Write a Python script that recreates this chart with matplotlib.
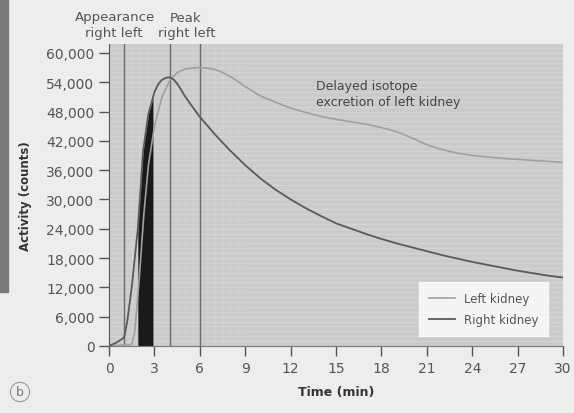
import numpy as np
import matplotlib
matplotlib.use("Agg")
import matplotlib.pyplot as plt
from matplotlib.patches import Rectangle

# waktu (menit) dan aktivitas (counts)
t_right = [0, 0.5, 0.9, 1.0, 1.2, 1.5, 1.9, 2.25, 2.6, 3.0, 3.25, 3.5, 3.75, 4.0, 4.25, 4.5, 4.75,
           5, 5.5, 6, 7, 8, 9, 10, 11, 12, 13, 14, 15, 16, 17, 18, 19, 20, 21, 22, 23, 24, 25, 26,
           27, 28, 29, 30]
right_kidney = [0, 700, 1500, 1800, 5000, 12000, 24000, 40000, 47500, 52000, 53600, 54500, 54900,
                55000, 54600, 53700, 52500, 51200, 49000, 46900, 43300, 40000, 37000, 34300, 32000,
                30000, 28200, 26600, 25100, 24000, 22900, 21900, 21000, 20200, 19400, 18600, 17900,
                17200, 16600, 16000, 15400, 14900, 14400, 14000]

t_left = [0, 1.5, 1.7, 2.0, 2.3, 2.6, 3.0, 3.5, 4.0, 4.5, 5, 5.5, 6, 6.5, 7, 7.5, 8, 8.5, 9, 10,
          11, 12, 13, 14, 15, 16, 17, 18, 19, 20, 21, 22, 23, 24, 25, 26, 27, 28, 29, 30]
left_kidney = [0, 300, 3000, 14000, 27000, 37000, 45000, 51000, 54300, 56000, 56700, 56900, 57000,
               56900, 56600, 56000, 55200, 54200, 53100, 51200, 49900, 48700, 47800, 47000, 46400,
               45900, 45400, 44700, 43900, 42600, 41200, 40200, 39500, 39000, 38700, 38400, 38200,
               38000, 37800, 37600]

marker_times = [1.0, 4.0, 6.0]     # appearance right, peak right, peak left
fill_range = (1.9, 2.9)            # daerah hitam di bawah kurva ginjal kanan

x_ticks = np.arange(0, 31, 3)
y_ticks = np.arange(0, 60001, 6000)

fig = plt.figure(figsize=(5.74, 4.14), dpi=100, facecolor='#ededed')
ax = fig.add_axes([0.190, 0.162, 0.791, 0.729])
ax.set_facecolor('#cbcbcb')

# garis grid halus seperti kertas grafik
for yy in np.arange(0, 62000, 1000):
    ax.axhline(yy, color='#d8d8d8', lw=0.5, zorder=0)
for xx in np.arange(0, 9.1, 0.5):
    ax.axvline(xx, color='#d4d4d4', lw=0.5, zorder=0)

for mt in marker_times:
    ax.axvline(mt, color='#6a6a6a', lw=1.0, zorder=1)

# daerah hitam
tf = np.linspace(fill_range[0], fill_range[1], 50)
ax.fill_between(tf, 0, np.interp(tf, t_right, right_kidney), color='#1a1a1a', zorder=2, lw=0)

ax.plot(t_left, left_kidney, color='#a0a0a0', lw=1.2, label='Left kidney', zorder=3)
ax.plot(t_right, right_kidney, color='#5a5a5a', lw=1.3, label='Right kidney', zorder=3)

ax.set_xlim(0, 30)
ax.set_ylim(0, 61800)
ax.set_xticks(x_ticks)
ax.set_yticks(y_ticks)
ax.set_yticklabels([f'{v:,}' for v in y_ticks])
ax.tick_params(axis='both', labelsize=10, colors='#555555', length=7, width=1)
ax.tick_params(axis='x', pad=4)
for s in ['top', 'right']:
    ax.spines[s].set_visible(False)
ax.spines['left'].set_color('#555555')
ax.spines['bottom'].set_color('#777777')

ax.set_xlabel('Time (min)', fontsize=9, fontweight='bold', color='#333333', labelpad=7)
ax.set_ylabel('Activity (counts)', fontsize=8.5, fontweight='bold', color='#333333', labelpad=10)

leg = ax.legend(loc='lower right', bbox_to_anchor=(0.98, 0.015), fontsize=8.5, frameon=True,
                fancybox=False, handlelength=2.2, labelspacing=0.7, borderpad=0.8)
leg.get_frame().set_facecolor('white')
leg.get_frame().set_edgecolor('white')
for txt in leg.get_texts():
    txt.set_color('#555555')

ax.text(0.455, 0.885, 'Delayed isotope\nexcretion of left kidney', transform=ax.transAxes,
        fontsize=9, color='#444444', va='top', ha='left', linespacing=1.3)

# label di atas grafik
fig.text(115 / 574, 1 - 18 / 414, 'Appearance', ha='center', va='center', fontsize=9.5, color='#555555')
fig.text(114 / 574, 1 - 33 / 414, 'right left', ha='center', va='center', fontsize=9.5, color='#555555')
fig.text(186 / 574, 1 - 18 / 414, 'Peak', ha='center', va='center', fontsize=9.5, color='#555555')
fig.text(187 / 574, 1 - 33 / 414, 'right left', ha='center', va='center', fontsize=9.5, color='#555555')

fig.text(20 / 574, 1 - 393 / 414, 'b', ha='center', va='center', fontsize=9, color='#777777',
         bbox=dict(boxstyle='circle,pad=0.25', fc='none', ec='#999999', lw=0.8))

# bingkai kiri hasil scan
fig.patches.append(Rectangle((0, 1 - 293 / 414), 8 / 574, 293 / 414, transform=fig.transFigure,
                             color='#7a7a7a', zorder=0))

fig.savefig('out.png', dpi=100, facecolor=fig.get_facecolor())
